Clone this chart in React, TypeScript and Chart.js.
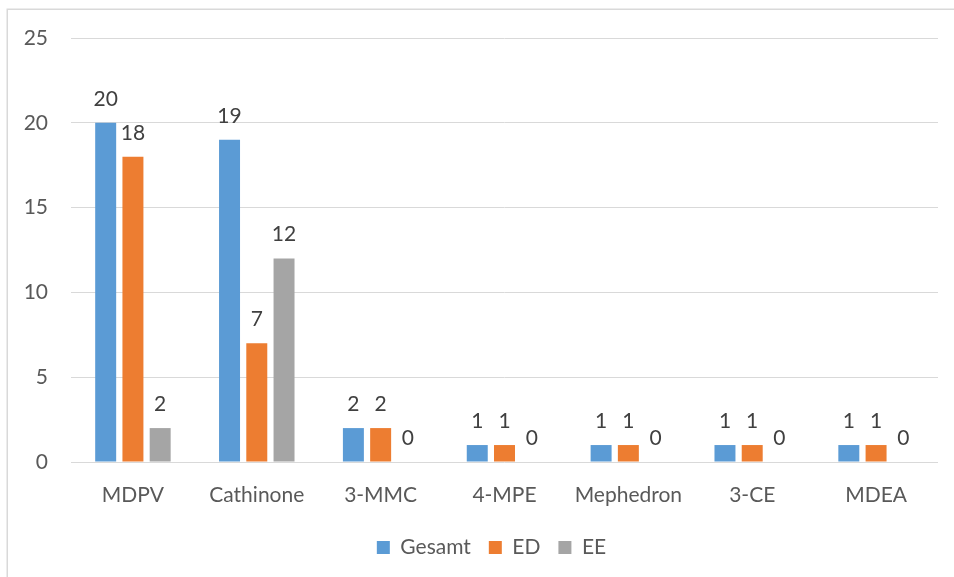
import React, { useEffect, useRef } from "react";
import { Chart, registerables } from "chart.js";

Chart.register(...registerables);

const categories = ["MDPV", "Cathinone", "3-MMC", "4-MPE", "Mephedron", "3-CE", "MDEA"];
const gesamt = [20, 19, 2, 1, 1, 1, 1];
const ed = [18, 7, 2, 1, 1, 1, 1];
const ee = [2, 12, 0, 0, 0, 0, 0];
const yTicks = [0, 5, 10, 15, 20, 25];

const FONT = "Lato, 'Open Sans', sans-serif";

// Value labels above every bar
const valueLabels = {
  id: "valueLabels",
  afterDatasetsDraw(chart: any) {
    const { ctx } = chart;
    ctx.save();
    ctx.font = `21px ${FONT}`;
    ctx.fillStyle = "#404040";
    ctx.textAlign = "center";
    ctx.textBaseline = "alphabetic";
    chart.data.datasets.forEach((ds: any, di: number) => {
      const meta = chart.getDatasetMeta(di);
      meta.data.forEach((el: any, i: number) => {
        ctx.fillText(String(ds.data[i]), el.x, el.y - 17);
      });
    });
    ctx.restore();
  },
};

// Thin frame around the whole chart
const frame = {
  id: "frame",
  beforeDraw(chart: any) {
    const { ctx } = chart;
    ctx.save();
    ctx.strokeStyle = "#D9D9D9";
    ctx.lineWidth = 1.5;
    ctx.strokeRect(7.25, 9.25, 1000, 1000);
    ctx.restore();
  },
};

// Legend is centred on the span between the frame's inner margin and the plot's right edge
const legendSpan = {
  id: "legendSpan",
  afterLayout(chart: any) {
    if (chart.legend) {
      chart.legend.left = 45;
      chart.legend.right = chart.chartArea.right;
      chart.legend.width = chart.legend.right - chart.legend.left;
    }
  },
};

export default function App() {
  const ref = useRef<HTMLCanvasElement>(null);

  useEffect(() => {
    if (!ref.current) return;
    const chart = new Chart(ref.current, {
      type: "bar",
      data: {
        labels: categories,
        datasets: [
          { label: "Gesamt", data: gesamt, backgroundColor: "#5B9BD5" },
          { label: "ED", data: ed, backgroundColor: "#ED7D31" },
          { label: "EE", data: ee, backgroundColor: "#A5A5A5" },
        ],
      },
      options: {
        responsive: false,
        animation: false,
        datasets: {
          bar: { categoryPercentage: 0.66, barPercentage: 0.77 },
        },
        layout: { padding: { left: 0, right: 16, top: 38, bottom: 9 } },
        plugins: {
          tooltip: { enabled: false },
          legend: {
            position: "bottom",
            labels: {
              boxWidth: 13,
              boxHeight: 13,
              padding: 18,
              color: "#595959",
              font: { family: FONT, size: 21 },
            },
          },
        },
        scales: {
          x: {
            grid: { display: false },
            border: { display: false },
            ticks: {
              color: "#595959",
              font: { family: FONT, size: 21 },
              padding: 13,
              maxRotation: 0,
              autoSkip: false,
            },
            afterFit: (s: any) => {
              s.height = 57;
            },
          },
          y: {
            min: 0,
            max: 25,
            afterBuildTicks: (s: any) => {
              s.ticks = yTicks.map((v) => ({ value: v }));
            },
            grid: { color: "#D9D9D9", lineWidth: 1, drawTicks: false },
            border: { display: false },
            ticks: {
              color: "#595959",
              font: { family: FONT, size: 21 },
              padding: 23,
            },
            afterFit: (s: any) => {
              s.width = 71;
            },
          },
        },
      },
      plugins: [frame, legendSpan, valueLabels],
    });
    return () => chart.destroy();
  }, []);

  return (
    <div style={{ position: "fixed", left: 0, top: 0, width: 954, height: 577, background: "#fff" }}>
      <canvas ref={ref} width={954} height={577} />
    </div>
  );
}
